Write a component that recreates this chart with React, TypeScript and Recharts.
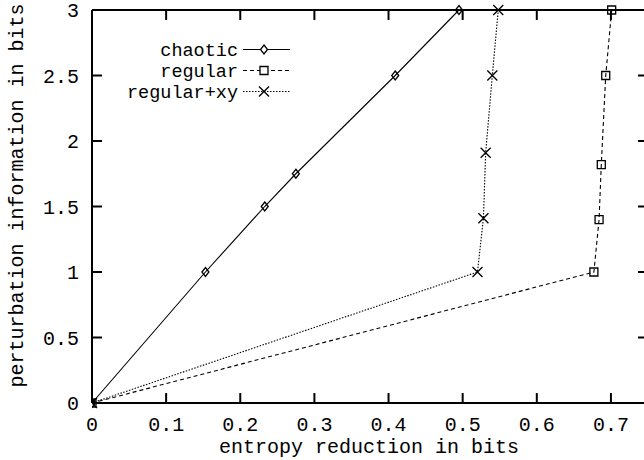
import React from 'react';
import { LineChart, Line, XAxis, YAxis, ReferenceLine } from 'recharts';

// ---- data ----
const chaoticX = [0, 0.153, 0.233, 0.275, 0.409, 0.495];
const chaoticY = [0, 1, 1.5, 1.75, 2.5, 3];
const regularX = [0, 0.677, 0.684, 0.687, 0.693, 0.701];
const regularY = [0, 1, 1.4, 1.82, 2.5, 3];
const regularXyX = [0, 0.52, 0.528, 0.531, 0.54, 0.548];
const regularXyY = [0, 1, 1.41, 1.91, 2.5, 3];

const xTicks = [0, 0.1, 0.2, 0.3, 0.4, 0.5, 0.6, 0.7];
const yTicks = [0, 0.5, 1, 1.5, 2, 2.5, 3];
const seriesNames = ['chaotic', 'regular', 'regular+xy'];

const xLabel = 'entropy reduction in bits';
const yLabel = 'perturbation information in bits';

const X_MIN = 0;
const X_MAX = 0.75;
const Y_MIN = 0;
const Y_MAX = 3;

const FONT = '"Liberation Mono", "DejaVu Sans Mono", monospace';
const FS = 20;
const LEGEND_FS = 18.5;
const BOTTOM_MARGIN = 14;
const LEFT_MARGIN = 13;
// inward tick length (about 10px) expressed in axis units
const TICK_DY = 0.076;
const TICK_DX = 0.0135;

const toPoints = (xs: number[], ys: number[]) => xs.map((x, i) => ({ x, y: ys[i] }));

type MarkerKind = 'diamond' | 'square' | 'cross';

const markerPath = (kind: MarkerKind, cx: number, cy: number) => {
  if (kind === 'diamond') {
    return `M${cx},${cy - 4.5}L${cx + 3.5},${cy}L${cx},${cy + 4.5}L${cx - 3.5},${cy}Z`;
  }
  if (kind === 'square') {
    return `M${cx - 4},${cy - 4}H${cx + 4}V${cy + 4}H${cx - 4}Z`;
  }
  return `M${cx - 5},${cy - 5}L${cx + 5},${cy + 5}M${cx - 5},${cy + 5}L${cx + 5},${cy - 5}`;
};

const series: { name: string; data: { x: number; y: number }[]; dash?: string; marker: MarkerKind }[] = [
  { name: seriesNames[0], data: toPoints(chaoticX, chaoticY), marker: 'diamond' },
  { name: seriesNames[1], data: toPoints(regularX, regularY), dash: '4 3', marker: 'square' },
  { name: seriesNames[2], data: toPoints(regularXyX, regularXyY), dash: '1.5 1.5', marker: 'cross' },
];

const makeDot = (kind: MarkerKind) => (props: any) => {
  const { cx, cy, index } = props;
  if (cx == null || cy == null) return <g key={`e-${index}`} />;
  return (
    <path
      key={`${kind}-${index}`}
      d={markerPath(kind, cx, cy)}
      fill="none"
      stroke="#000"
      strokeWidth={1.3}
    />
  );
};

const BottomTick = (p: any) => (
  <text x={p.x} y={p.y} dy="0.71em" textAnchor="middle" fontFamily={FONT} fontSize={FS} fill="#000">
    {String(p.payload.value)}
  </text>
);

const LeftTick = (p: any) => (
  <text x={p.x} y={p.y} dy="0.355em" textAnchor="end" fontFamily={FONT} fontSize={FS} fill="#000">
    {String(p.payload.value)}
  </text>
);

const LegendOverlay = () => {
  const rows = [49.5, 70.5, 91.5];
  return (
    <svg
      width={644}
      height={460}
      style={{ position: 'absolute', left: 0, top: 0, pointerEvents: 'none' }}
    >
      {series.map((s, i) => (
        <g key={s.name}>
          <text x={238} y={rows[i] + 6} textAnchor="end" fontFamily={FONT} fontSize={LEGEND_FS} fill="#000">
            {s.name}
          </text>
          <line
            x1={243}
            x2={290}
            y1={rows[i]}
            y2={rows[i]}
            stroke="#000"
            strokeWidth={1.1}
            strokeDasharray={s.dash}
          />
          <path d={markerPath(s.marker, 264, rows[i])} fill="#fff" stroke="#000" strokeWidth={1.3} />
        </g>
      ))}
    </svg>
  );
};

const tickRef = { xAxisId: 'b', yAxisId: 'l', stroke: '#000', strokeWidth: 2, ifOverflow: 'visible' as const };

export default function App() {
  return (
    <div
      style={{
        position: 'fixed',
        left: 0,
        top: 0,
        width: 644,
        height: 460,
        overflow: 'hidden',
        background: '#fff',
      }}
    >
      <LineChart width={660} height={460} margin={{ top: 0, right: 0, bottom: 0, left: 0 }}>
        <XAxis
          xAxisId="b"
          type="number"
          dataKey="x"
          domain={[X_MIN, X_MAX]}
          ticks={xTicks}
          interval={0}
          allowDataOverflow
          orientation="bottom"
          height={57}
          tickSize={0}
          tickMargin={BOTTOM_MARGIN}
          tickLine={false}
          tick={BottomTick}
          stroke="#000"
          strokeWidth={2}
          label={(p: any) => {
            const vb = p.viewBox;
            return (
              <text
                x={vb.x + vb.width / 2 - 1}
                y={vb.y + 50}
                textAnchor="middle"
                fontFamily={FONT}
                fontSize={FS}
                fill="#000"
              >
                {xLabel}
              </text>
            );
          }}
        />
        <XAxis
          xAxisId="t"
          type="number"
          dataKey="x"
          domain={[X_MIN, X_MAX]}
          ticks={xTicks}
          allowDataOverflow
          orientation="top"
          height={10}
          tickSize={0}
          tickLine={false}
          tick={false}
          stroke="#000"
          strokeWidth={2}
        />
        <YAxis
          yAxisId="l"
          type="number"
          dataKey="y"
          domain={[Y_MIN, Y_MAX]}
          ticks={yTicks}
          interval={0}
          orientation="left"
          width={92}
          tickSize={0}
          tickMargin={LEFT_MARGIN}
          tickLine={false}
          tick={LeftTick}
          stroke="#000"
          strokeWidth={2}
          label={(p: any) => {
            const vb = p.viewBox;
            const cx = 23;
            const cy = vb.y + vb.height / 2 - 11;
            return (
              <text
                x={cx}
                y={cy}
                transform={`rotate(-90, ${cx}, ${cy})`}
                textAnchor="middle"
                fontFamily={FONT}
                fontSize={FS}
                fill="#000"
              >
                {yLabel}
              </text>
            );
          }}
        />
        <YAxis
          yAxisId="r"
          type="number"
          dataKey="y"
          domain={[Y_MIN, Y_MAX]}
          ticks={yTicks}
          orientation="right"
          width={12}
          tickSize={0}
          tickLine={false}
          tick={false}
          stroke="#000"
          strokeWidth={2}
        />
        {xTicks.map((v) => (
          <ReferenceLine
            key={`bt-${v}`}
            {...tickRef}
            segment={[{ x: v, y: Y_MIN }, { x: v, y: Y_MIN + TICK_DY }]}
          />
        ))}
        {xTicks.map((v) => (
          <ReferenceLine
            key={`tt-${v}`}
            {...tickRef}
            segment={[{ x: v, y: Y_MAX }, { x: v, y: Y_MAX - TICK_DY }]}
          />
        ))}
        {yTicks.map((v) => (
          <ReferenceLine
            key={`lt-${v}`}
            {...tickRef}
            segment={[{ x: X_MIN, y: v }, { x: X_MIN + TICK_DX, y: v }]}
          />
        ))}
        {yTicks.map((v) => (
          <ReferenceLine
            key={`rt-${v}`}
            {...tickRef}
            segment={[{ x: X_MAX, y: v }, { x: X_MAX - TICK_DX, y: v }]}
          />
        ))}
        {series.map((s) => (
          <Line
            key={s.name}
            name={s.name}
            xAxisId="b"
            yAxisId="l"
            data={s.data}
            dataKey="y"
            type="linear"
            stroke="#000"
            strokeWidth={1.1}
            strokeDasharray={s.dash}
            dot={makeDot(s.marker)}
            activeDot={false}
            isAnimationActive={false}
          />
        ))}
      </LineChart>
      <LegendOverlay />
    </div>
  );
}
